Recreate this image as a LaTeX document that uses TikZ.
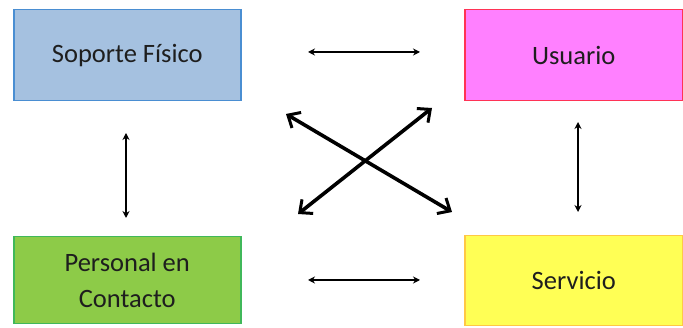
\documentclass[tikz,border=0pt]{standalone}
\usepackage{fontspec}
\setmainfont{Carlito}
\usetikzlibrary{arrows.meta}
\definecolor{blueFill}{HTML}{A5C1E0}
\definecolor{blueLine}{HTML}{4A8ED2}
\definecolor{pinkFill}{HTML}{FF80FF}
\definecolor{pinkLine}{HTML}{FF3355}
\definecolor{greenFill}{HTML}{8DCB48}
\definecolor{greenLine}{HTML}{40B85A}
\definecolor{yellowFill}{HTML}{FFFF55}
\definecolor{yellowLine}{HTML}{FFC845}
\definecolor{txt}{HTML}{1E1E1E}
\tikzset{
  card/.style={draw, line width=1.5pt, text=txt, font=\fontsize{26.5}{36}\selectfont,
    align=center, inner sep=0pt, anchor=north west},
  thinarrow/.style={{Stealth[length=7pt,width=7pt]}-{Stealth[length=7pt,width=7pt]}, line width=1.4pt, black},
  thickarrow/.style={{Straight Barb[length=10pt,width=18pt,line width=3pt]}-{Straight Barb[length=10pt,width=18pt,line width=3pt]}, line width=3.6pt, black}
}
\begin{document}
\begin{tikzpicture}[x=1pt,y=-1pt]
\useasboundingbox (0,0) rectangle (683,328);
\fill[white] (0,0) rectangle (683,328);
\node[card, fill=blueFill, draw=blueLine, minimum width=227pt, minimum height=91pt] (sop) at (13,9) {Soporte Físico};
\node[card, fill=pinkFill, draw=pinkLine, minimum width=218pt, minimum height=91pt] (usu) at (464,9) {Usuario};
\node[card, fill=greenFill, draw=greenLine, minimum width=227pt, minimum height=87pt] (per) at (13,236) {Personal en\\Contacto};
\node[card, fill=yellowFill, draw=yellowLine, minimum width=218pt, minimum height=90pt] (ser) at (464,235) {Servicio};
% small arrows between neighbouring boxes
\coordinate (h1a) at (308,52); \coordinate (h1b) at (420,52);
\coordinate (h2a) at (308,280); \coordinate (h2b) at (420,280);
\coordinate (v1a) at (126,133); \coordinate (v1b) at (126,218);
\coordinate (v2a) at (578,122); \coordinate (v2b) at (578,212);
\draw[thinarrow] (h1a) -- (h1b);
\draw[thinarrow] (h2a) -- (h2b);
\draw[thinarrow] (v1a) -- (v1b);
\draw[thinarrow] (v2a) -- (v2b);
% crossing diagonal arrows
\coordinate (d1a) at (286,114); \coordinate (d1b) at (452,212);
\coordinate (d2a) at (298,214); \coordinate (d2b) at (432,108);
\draw[thickarrow] (d1a) -- (d1b);
\draw[thickarrow] (d2a) -- (d2b);
\end{tikzpicture}
\end{document}
